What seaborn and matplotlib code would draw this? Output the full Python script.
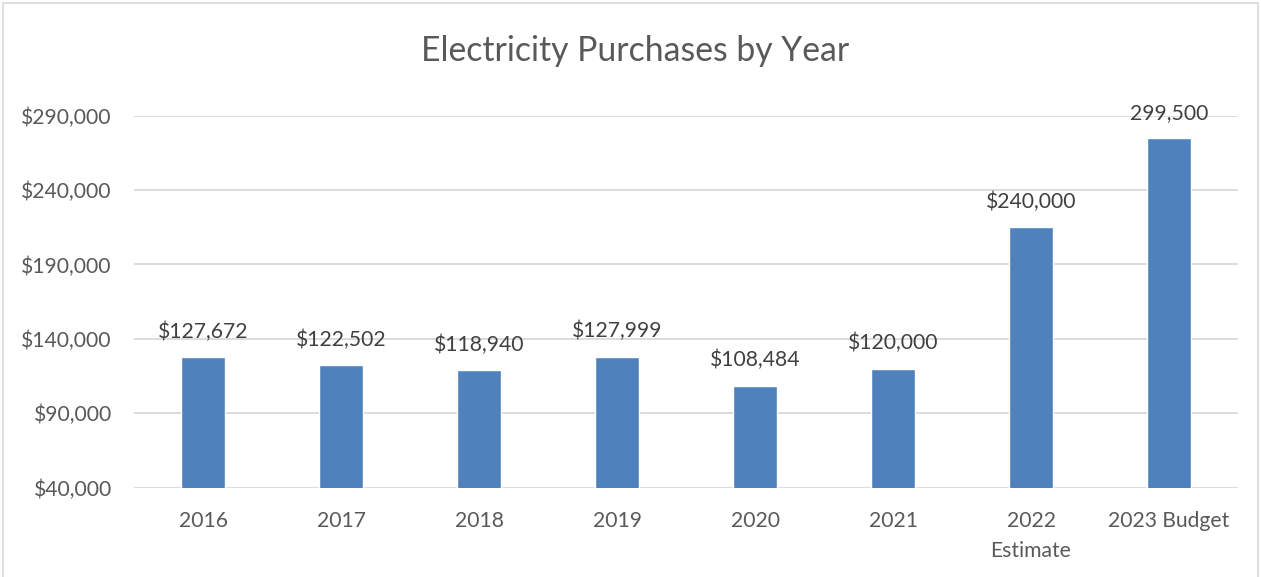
import matplotlib
matplotlib.use("Agg")
import matplotlib.pyplot as plt
import pandas as pd
import seaborn as sns
from matplotlib.patches import Rectangle
from matplotlib.ticker import FuncFormatter

# Chart data (bar heights as drawn; labels as printed on the chart)
categories = ["2016", "2017", "2018", "2019", "2020", "2021", "2022\nEstimate", "2023 Budget"]
bar_values = [127672, 122502, 118940, 127999, 108484, 120000, 215000, 275000]
value_labels = ["$127,672", "$122,502", "$118,940", "$127,999", "$108,484", "$120,000", "$240,000", "299,500"]
y_ticks = [40000, 90000, 140000, 190000, 240000, 290000]

df = pd.DataFrame({"year": categories, "amount": bar_values})

sns.set_theme(style="white")
plt.rcParams["font.family"] = ["Lato", "DejaVu Sans"]

text_color = "#595959"
label_color = "#404040"
bar_color = "#4F81BD"
grid_color = "#D9D9D9"

fig = plt.figure(figsize=(12.61, 5.77), dpi=100)
ax = fig.add_axes([0.1063, 0.1548, 0.8755, 0.6447])

sns.barplot(data=df, x="year", y="amount", color=bar_color, width=0.32,
            saturation=1, ax=ax, zorder=3)

ax.set_ylim(y_ticks[0], y_ticks[-1])
ax.set_yticks(y_ticks)
ax.yaxis.set_major_formatter(FuncFormatter(lambda v, _: f"${v:,.0f}"))
ax.grid(axis="y", color=grid_color, linewidth=1.3, zorder=0)
ax.grid(axis="x", visible=False)
for side in ["top", "right", "left", "bottom"]:
    ax.spines[side].set_visible(False)
ax.tick_params(axis="y", length=0, pad=16, labelsize=15.2, labelcolor=text_color)
ax.tick_params(axis="x", length=0, pad=17, labelsize=15.2, labelcolor=text_color)
for lbl in ax.get_xticklabels():
    lbl.set_linespacing(1.6)
ax.set_xlabel("")
ax.set_ylabel("")

ax.bar_label(ax.containers[0], labels=value_labels, padding=11, fontsize=15.2,
             color=label_color, clip_on=False)

fig.suptitle("Electricity Purchases by Year", x=0.504, y=0.94, fontsize=24.3,
             color=text_color)

# chart-area border
fig.patches.append(Rectangle((0.0025, -0.01), 0.995, 1.004, transform=fig.transFigure,
                             fill=False, edgecolor="#D9D9D9", linewidth=1.2))

fig.savefig("out.png", dpi=100)
